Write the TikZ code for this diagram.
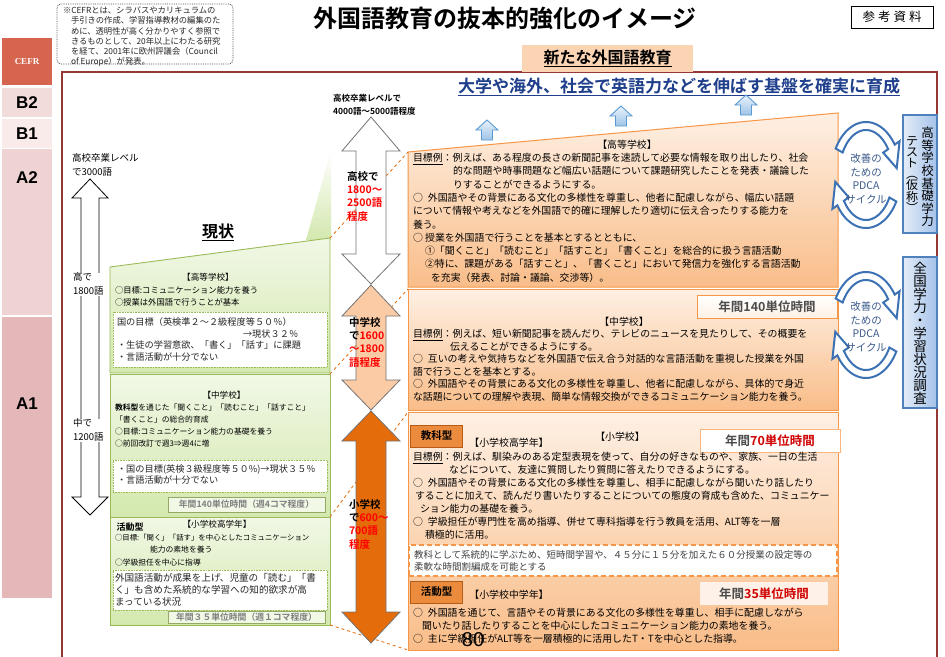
\documentclass[tikz,border=0pt]{standalone}
\usepackage{fontspec}
\setmainfont{Noto Sans CJK JP}[BoldFont={Noto Sans CJK JP Bold}]
\newfontfamily\serifL{Liberation Serif}
\newfontfamily\arialL{Liberation Sans}
\usetikzlibrary{calc}
\definecolor{cefrC}{HTML}{D6654F}
\definecolor{b2C}{HTML}{F2DCDB}
\definecolor{b1C}{HTML}{F8EBEA}
\definecolor{a2C}{HTML}{EFD3D2}
\definecolor{a1C}{HTML}{E4B8B8}
\definecolor{frameC}{HTML}{953735}
\definecolor{peachC}{HTML}{FBD4B4}
\definecolor{subC}{HTML}{1F3F8C}
\definecolor{gB}{HTML}{9BBB59}
\definecolor{gT}{HTML}{F1F8E6}
\definecolor{gBt}{HTML}{D3E8AE}
\definecolor{orB}{HTML}{F79646}
\definecolor{orLt}{HTML}{FEF0E4}
\definecolor{orDk}{HTML}{F9BD89}
\definecolor{orPale}{HTML}{FDF1E8}
\definecolor{kC}{HTML}{EA8B3E}
\definecolor{kB}{HTML}{B65C17}
\definecolor{redC}{HTML}{D00000}
\definecolor{arrLt}{HTML}{FBCBA5}
\definecolor{arrDk}{HTML}{E46C0A}
\definecolor{blueB}{HTML}{4F81BD}
\definecolor{blueLt}{HTML}{E3ECF7}
\definecolor{blueDk}{HTML}{A4C2EA}
\definecolor{pdcaB}{HTML}{3C72B4}
\definecolor{pdcaTxt}{HTML}{3B5A8C}
\definecolor{upT}{HTML}{EAF2FC}
\definecolor{upB}{HTML}{9DC3E6}
\definecolor{upD}{HTML}{5B9BD5}
\newcommand\Mru{○\hspace{5pt}}
\begin{document}
\begin{tikzpicture}[x=1pt,y=-1pt,
  every node/.style={inner sep=0pt,outer sep=0pt},
  lvltxt/.style={font=\arialL\bfseries\fontsize{17}{17}\selectfont},
  outerframe/.style={draw=frameC, line width=2.5},
  greenbox/.style={draw=gB, line width=0.9, top color=gT, bottom color=gBt},
  wbox/.style={draw=gB, densely dotted, line width=0.6, fill=white},
  lblbox/.style={draw=gB!70!gray, line width=0.5, fill=gT, minimum width=157, minimum height=15, font=\bfseries\fontsize{8.8}{8.8}\selectfont, text=black!50},
  orangebox/.style={draw=orB, line width=1, top color=orLt, bottom color=orDk},
  blk/.style={anchor=north west, align=left},
  otxt/.style={blk, font=\fontsize{9.9}{13.3}\selectfont},
  conn/.style={draw=arrDk, dashed, line width=0.8},
  bigarrow/.style={draw=black!55, line width=0.8},
  uparrow/.style={draw=upD, line width=0.9, top color=upT, bottom color=upB},
  tagbox/.style={fill=kC, draw=kB, line width=1, minimum width=52, minimum height=22, font=\bfseries\fontsize{10.5}{10.5}\selectfont},
  hourbox/.style={minimum width=140, minimum height=23, font=\bfseries\fontsize{12.5}{12.5}\selectfont, text=black!70},
  pdcaA/.style={draw=pdcaB, line width=2, fill=white},
  pdcaT/.style={align=center, font=\fontsize{10.5}{13.5}\selectfont, text=pdcaTxt},
  vertbox/.style={draw=blueB, line width=1.2, left color=blueLt, right color=blueDk, minimum width=34},
  arrtxt/.style={blk, font=\bfseries\fontsize{10.5}{13.2}\selectfont}
]
\useasboundingbox (0,0) rectangle (945,656);
\fill[white] (0,0) rectangle (945,656);

% ---------- CEFR column ----------
\node[fill=cefrC, minimum width=50, minimum height=47, font=\serifL\bfseries\fontsize{9}{9}\selectfont, text=white] (cefr) at (27,61.5) {CEFR};
\node[fill=b2C, minimum width=50, minimum height=29, lvltxt] (lvB2) at (27,102.5) {B2};
\node[fill=b1C, minimum width=50, minimum height=29, lvltxt] (lvB1) at (27,133.5) {B1};
\node[fill=a2C, minimum width=50, minimum height=166] (lvA2) at (27,232) {};
\node[lvltxt] (lvA2t) at (27,178) {A2};
\node[fill=a1C, minimum width=50, minimum height=281] (lvA1) at (27,457.5) {};
\node[lvltxt] (lvA1t) at (27,404) {A1};

% ---------- frame, title ----------
\draw[outerframe] (62,660) -- (62,72) -- (937,72) -- (937,660);
\node[draw=black!70, densely dotted, rounded corners=4, line width=0.8, minimum width=176, minimum height=60] (noteBox) at (145,34) {};
\node[blk, font=\fontsize{8.3}{10.2}\selectfont, text=black!85] (noteTxt) at (63,7) {※CEFRとは、シラバスやカリキュラムの\\\hspace*{8pt}手引きの作成、学習指導教材の編集のた\\\hspace*{8pt}めに、透明性が高く分かりやすく参照で\\\hspace*{8pt}きるものとして、20年以上にわたる研究\\\hspace*{8pt}を経て、2001年に欧州評議会（Council\\\hspace*{8pt}of Europe）が発表。};
\node[font=\bfseries\fontsize{24}{24}\selectfont] (title) at (505,18) {外国語教育の抜本的強化のイメージ};
\node[draw, line width=0.8, minimum width=82, minimum height=22, font=\fontsize{12.5}{12.5}\selectfont] (refMat) at (892,17) {参\hspace{3pt}考\hspace{3pt}資\hspace{3pt}料};
\node[fill=peachC, minimum width=171, minimum height=27, font=\bfseries\fontsize{16}{16}\selectfont] (newEdu) at (607.5,58.5) {\underline{新たな外国語教育}};
\node[font=\bfseries\fontsize{17}{17}\selectfont, text=subC] (subTitle) at (679,87) {\underline{大学や海外、社会で英語力などを伸ばす基盤を確実に育成}};

% ---------- left: current state ----------
\node[blk, font=\fontsize{9.5}{14}\selectfont] (hs3000) at (72,153.5) {高校卒業レベル\\で3000語};
\draw[bigarrow, draw=black, fill=white] (90,179) -- (108,198) -- (99,198) -- (99,497) -- (108,497) -- (90,515) -- (72,497) -- (81,497) -- (81,198) -- (72,198) -- cycle;
\node[blk, fill=white, font=\fontsize{9.5}{14.5}\selectfont] (hs1800) at (73,272.5) {高で\\1800語};
\node[blk, fill=white, font=\fontsize{9.5}{14.5}\selectfont] (jh1200) at (73,418.5) {中で\\1200語};
\node[font=\bfseries\fontsize{16}{16}\selectfont] (genjo) at (218,232) {\underline{現状}};

\shade[top color=white, bottom color=gBt] (331,150) -- (331,240) -- (306,240) -- cycle;

\coordinate (g1tl) at (110,267); \coordinate (g1tr) at (330,238);
\coordinate (g1br) at (330,373); \coordinate (g1bl) at (110,373);
\path[greenbox] (g1tl) -- (g1tr) -- (g1br) -- (g1bl) -- cycle;
\coordinate (g2tl) at (110,374); \coordinate (g2tr) at (330,374);
\coordinate (g2br) at (330,517); \coordinate (g2bl) at (110,517);
\path[greenbox] (g2tl) -- (g2tr) -- (g2br) -- (g2bl) -- cycle;
\coordinate (g3tl) at (110,517); \coordinate (g3tr) at (330,517);
\coordinate (g3br) at (330,625); \coordinate (g3bl) at (110,625);
\path[greenbox] (g3tl) -- (g3tr) -- (g3br) -- (g3bl) -- cycle;

\node[font=\fontsize{8.6}{8.6}\selectfont] (g1head) at (208,277) {【高等学校】};
\node[blk, font=\fontsize{8.3}{12}\selectfont] (g1txt) at (115,287) {○目標:コミュニケーション能力を養う\\○授業は外国語で行うことが基本};
\node[wbox, minimum width=214, minimum height=55] (g1w) at (220,339.5) {};
\node[blk, font=\fontsize{9.2}{11.8}\selectfont, text=black!85] (g1wtxt) at (117,317.5) {国の目標（英検準２～２級程度等５０％）\\\hspace*{126pt}→現状３２％\\・生徒の学習意欲、「書く」「話す」に課題\\・言語活動が十分でない};

\node[font=\fontsize{8.6}{8.6}\selectfont] (g2head) at (224,395) {【中学校】};
\node[blk, font=\fontsize{7.8}{12}\selectfont] (g2txt) at (115,404) {\textbf{教科型}を通じた「聞くこと」「読むこと」「話すこと」\\「書くこと」の総合的育成\\○目標:コミュニケーション能力の基礎を養う\\○前回改訂で週3⇒週4に増};
\node[wbox, minimum width=214, minimum height=32] (g2w) at (220,476) {};
\node[blk, font=\fontsize{9.2}{11.5}\selectfont, text=black!85] (g2wtxt) at (117,464.6) {・国の目標(英検３級程度等５０\%)→現状３５％\\・言語活動が十分でない};
\node[lblbox] (g2lbl) at (246.5,504.5) {年間140単位時間（週4コマ程度）};

\node[font=\bfseries\fontsize{9}{9}\selectfont] (g3type) at (130,527) {活動型};
\node[font=\fontsize{8.6}{8.6}\selectfont] (g3head) at (217,524) {【小学校高学年】};
\node[blk, font=\fontsize{7.8}{12.5}\selectfont] (g3txt) at (115,534) {{\fontsize{7.4}{12.5}\selectfont ○目標:「聞く」「話す」を中心としたコミュニケーション}\\\hspace*{35pt}能力の素地を養う\\○学級担任を中心に指導};
\node[wbox, minimum width=214, minimum height=40] (g3w) at (220,590) {};
\node[blk, font=\fontsize{9.6}{12}\selectfont, text=black!85] (g3wtxt) at (115,573.3) {外国語活動が成果を上げ、児童の「読む」「書\\く」も含めた系統的な学習への知的欲求が高\\まっている状況};
\node[lblbox, minimum height=12] (g3lbl) at (246.5,617.5) {年間３５単位時間（週１コマ程度）};

% ---------- right: new education ----------
\coordinate (o1tl) at (408,152); \coordinate (o1tr) at (838,113);
\coordinate (o1br) at (838,287); \coordinate (o1bl) at (408,287);
\path[orangebox] (o1tl) -- (o1tr) -- (o1br) -- (o1bl) -- cycle;
\coordinate (o2tl) at (408,289); \coordinate (o2tr) at (838,289);
\coordinate (o2br) at (838,410); \coordinate (o2bl) at (408,410);
\path[orangebox] (o2tl) -- (o2tr) -- (o2br) -- (o2bl) -- cycle;
\coordinate (o3tl) at (408,412); \coordinate (o3tr) at (838,412);
\coordinate (o3br) at (838,650); \coordinate (o3bl) at (408,650);
\path[orangebox] (o3tl) -- (o3tr) -- (o3br) -- (o3bl) -- cycle;

\draw[conn] (g1tr) -- (o1tl);
\draw[conn] (g2tr) -- (o2tl);
\draw[conn] (g3tr) -- (o3tl);
\draw[conn] (g3br) -- (o3bl);

\node[font=\fontsize{9.9}{9.9}\selectfont] (o1head) at (627,145) {【高等学校】};
\node[otxt] (o1txt) at (413,153.2) {\underline{目標例}：例えば、ある程度の長さの新聞記事を速読して必要な情報を取り出したり、社会\\\hspace*{40pt}的な問題や時事問題など幅広い話題について課題研究したことを発表・議論した\\\hspace*{40pt}りすることができるようにする。\\\Mru 外国語やその背景にある文化の多様性を尊重し、他者に配慮しながら、幅広い話題\\について情報や考えなどを外国語で的確に理解したり適切に伝え合ったりする能力を\\養う。\\○ 授業を外国語で行うことを基本とするとともに、\\\hspace*{12pt}①「聞くこと」「読むこと」「話すこと」「書くこと」を総合的に扱う言語活動\\\hspace*{12pt}②特に、課題がある「話すこと」、「書くこと」において発信力を強化する言語活動\\\hspace*{18pt}を充実（発表、討論・議論、交渉等）。};

\node[hourbox, draw=orB, top color=white, bottom color=orLt] (y140) at (767,307) {年間140単位時間};
\node[font=\fontsize{9.9}{9.9}\selectfont] (o2head) at (624,322) {【中学校】};
\node[otxt, font=\fontsize{9.9}{12.5}\selectfont] (o2txt) at (413,329.2) {\underline{目標例}：例えば、短い新聞記事を読んだり、テレビのニュースを見たりして、その概要を\\\hspace*{37pt}伝えることができるようにする。\\\Mru 互いの考えや気持ちなどを外国語で伝え合う対話的な言語活動を重視した授業を外国\\語で行うことを基本とする。\\\Mru 外国語やその背景にある文化の多様性を尊重し、他者に配慮しながら、具体的で身近\\な話題についての理解や表現、簡単な情報交換ができるコミュニケーション能力を養う。};

\node[tagbox] (kyoka) at (436.5,436) {教科型};
\node[font=\fontsize{9.9}{9.9}\selectfont] (o3sub) at (509,443) {【小学校高学年】};
\node[font=\fontsize{9.9}{9.9}\selectfont] (o3head) at (620,437) {【小学校】};
\node[hourbox, draw=orB!70, fill=white] (y70) at (770,441) {年間\textcolor{redC}{70単位時間}};
\node[otxt, font=\fontsize{9.9}{13}\selectfont] (o3txt) at (413,452.2) {\underline{目標例}：例えば、馴染みのある定型表現を使って、自分の好きなものや、家族、一日の生活\\\hspace*{36pt}などについて、友達に質問したり質問に答えたりできるようにする。\\\Mru 外国語やその背景にある文化の多様性を尊重し、相手に配慮しながら聞いたり話したり\\\hspace*{2pt}することに加えて、読んだり書いたりすることについての態度の育成も含めた、コミュニケー\\\hspace*{7pt}ション能力の基礎を養う。\\\Mru 学級担任が専門性を高め指導、併せて専科指導を行う教員を活用、ALT等を一層\\\hspace*{12pt}積極的に活用。};
\node[draw=orB, dash pattern=on 5pt off 3pt, line width=1.4, fill=white, minimum width=428, minimum height=31] (dashBox) at (623,560.5) {};
\node[blk, font=\fontsize{9.5}{12}\selectfont, text=black!75] (dashTxt) at (414,550.4) {教科として系統的に学ぶため、短時間学習や、４５分に１５分を加えた６０分授業の設定等の\\柔軟な時間割編成を可能とする};

\node[tagbox] (katsudo) at (436.5,592) {活動型};
\node[font=\fontsize{9.9}{9.9}\selectfont] (o4sub) at (509,595) {【小学校中学年】};
\node[hourbox, fill=orPale, minimum width=128] (y35) at (764,593.5) {年間\textcolor{redC}{35単位時間}};
\node[otxt, font=\fontsize{9.9}{13}\selectfont] (o4txt) at (413,608.2) {\Mru 外国語を通じて、言語やその背景にある文化の多様性を尊重し、相手に配慮しながら\\\hspace*{9pt}聞いたり話したりすることを中心にしたコミュニケーション能力の素地を養う。\\\Mru 主に学級担任がALT等を一層積極的に活用したT・Tを中心とした指導。};
\node[font=\arialL\fontsize{20}{20}\selectfont] (pageNum) at (473,640) {80};

% ---------- middle arrows ----------
\node[blk, font=\bfseries\fontsize{8.5}{13}\selectfont] (hsGoal) at (333,94) {高校卒業レベルで\\4000語～5000語程度};
\draw[bigarrow, fill=white] (371,117) -- (400,151) -- (386,151) -- (386,254) -- (400,254) -- (371,284) -- (342,254) -- (356,254) -- (356,151) -- (342,151) -- cycle;
\draw[bigarrow, fill=arrLt] (371,285) -- (400,316) -- (386,316) -- (386,380) -- (400,380) -- (371,410) -- (342,380) -- (356,380) -- (356,316) -- (342,316) -- cycle;
\draw[bigarrow, fill=arrDk] (371,411) -- (400,441) -- (386,441) -- (386,612) -- (400,612) -- (371,643) -- (342,612) -- (356,612) -- (356,441) -- (342,441) -- cycle;
\node[arrtxt] (hsWords) at (347,171.5) {高校で\\\textcolor{red}{1800～}\\\textcolor{red}{2500語}\\\textcolor{red}{程度}};
\node[arrtxt] (jhWords) at (349,317.5) {中学校\\で\textcolor{red}{1600}\\\textcolor{red}{～1800}\\\textcolor{red}{語程度}};
\node[arrtxt] (esWords) at (349,499.5) {小学校\\で\textcolor{red}{600～}\\\textcolor{red}{700語}\\\textcolor{red}{程度}};

% ---------- blue up arrows ----------
\foreach \cx/\ty in {487/120, 621/106, 746/95}{
  \path[uparrow] (\cx,\ty) -- ++(11,10) -- ++(-5.5,0) -- ++(0,10) -- ++(-11,0) -- ++(0,-10) -- ++(-5.5,0) -- cycle;
}

% ---------- PDCA ----------
\foreach \cy in {175,325}{
  \begin{scope}[shift={(866,\cy)}]
    \filldraw[pdcaA] plot[domain=150:35, samples=30, variable=\t] ({35*cos(\t)},{-53*sin(\t)}) -- ({41*cos(35)},{-59*sin(35)}) -- ({31*cos(8)},{-49*sin(8)}) -- ({21*cos(35)},{-39*sin(35)}) -- plot[domain=35:150, samples=30, variable=\t] ({27*cos(\t)},{-45*sin(\t)}) -- cycle;
    \filldraw[pdcaA] plot[domain=-30:-145, samples=30, variable=\t] ({35*cos(\t)},{-53*sin(\t)}) -- ({41*cos(-145)},{-59*sin(-145)}) -- ({31*cos(-172)},{-49*sin(-172)}) -- ({21*cos(-145)},{-39*sin(-145)}) -- plot[domain=-145:-30, samples=30, variable=\t] ({27*cos(\t)},{-45*sin(\t)}) -- cycle;
  \end{scope}
}
\node[pdcaT] (pdca1) at (866,179) {改善の\\ための\\PDCA\\サイクル};
\node[pdcaT] (pdca2) at (866,327) {改善の\\ための\\PDCA\\サイクル};

\node[vertbox, minimum height=118] (testBox) at (920,174) {};
\node[align=center, font=\fontsize{12.5}{12.6}\selectfont] (testR) at (927.5,177) {高\\等\\学\\校\\基\\礎\\学\\力};
\node[align=center, font=\fontsize{12}{11}\selectfont] (testL) at (912,175) {テ\\ス\\ト\\︵\\仮\\称\\︶};
\node[vertbox, minimum height=151] (surveyBox) at (920,332.5) {};
\node[align=center, font=\fontsize{13.5}{13}\selectfont] (survey) at (920,333) {全\\国\\学\\力\\・\\学\\習\\状\\況\\調\\査};
\end{tikzpicture}
\end{document}
